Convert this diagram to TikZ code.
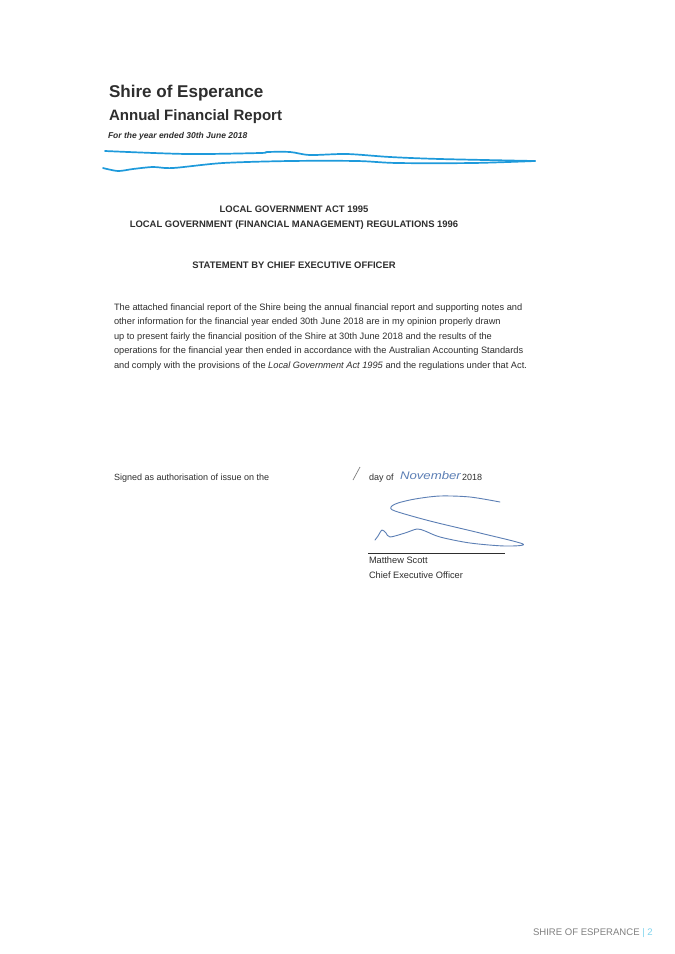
\documentclass[tikz,border=0pt]{standalone}
\usepackage{fontspec}
\setmainfont{Liberation Sans}
\definecolor{ink}{HTML}{2E2E2E}
\definecolor{pen}{HTML}{1E9ADB}
\definecolor{sig}{HTML}{5C7FB5}
\definecolor{foot}{HTML}{808080}
\definecolor{pagecol}{HTML}{7FD4EE}
\tikzset{
  txt/.style={anchor=base west,inner sep=0pt,outer sep=0pt,text=ink,font=\fontsize{#1}{#1}\selectfont},
  ctr/.style={anchor=base,inner sep=0pt,outer sep=0pt,text=ink,font=\fontsize{#1}{#1}\selectfont\bfseries},
  marker/.style={draw=pen,line width=1.7pt,line cap=round,line join=round},
  sign/.style={draw=sig,line width=0.9pt,line cap=round,line join=round}
}
\begin{document}
\begin{tikzpicture}[x=1pt,y=-1pt]
\useasboundingbox (0,0) rectangle (675,954);
\fill[white] (0,0) rectangle (675,954);
\node[txt=17,font=\fontsize{17.05}{17}\selectfont\bfseries] (t1) at (109,97) {Shire of Esperance};
\node[txt=15,font=\fontsize{15.05}{15}\selectfont\bfseries] (t2) at (109,120) {Annual Financial Report};
\node[txt=8.5,font=\fontsize{8.5}{8.5}\selectfont\bfseries\itshape] (t3) at (108,138) {For the year ended 30th June 2018};
\draw[marker] plot[smooth,tension=0.5] coordinates {(105,151) (187,154) (260,153) (267,152) (290,152) (310,155) (347,154) (390,157) (440,159) (535,161)};
\draw[marker] plot[smooth,tension=0.5] coordinates {(103,168) (118,171) (133,169) (153,167) (173,168) (223,163) (290,161) (357,161) (397,163) (473,163) (535,161)};
\node[ctr=9.45] (h1) at (294,212) {LOCAL GOVERNMENT ACT 1995};
\node[ctr=9.45] (h2) at (294,227) {LOCAL GOVERNMENT (FINANCIAL MANAGEMENT) REGULATIONS 1996};
\node[ctr=9.45] (h3) at (294,268) {STATEMENT BY CHIEF EXECUTIVE OFFICER};
\node[txt=9.25] (b1) at (114,310) {The attached financial report of the Shire being the annual financial report and supporting notes and};
\node[txt=9.25] (b2) at (114,324) {other information for the financial year ended 30th June 2018 are in my opinion properly drawn};
\node[txt=9.25] (b3) at (114,339) {up to present fairly the financial position of the Shire at 30th June 2018 and the results of the};
\node[txt=9.25] (b4) at (114,353) {operations for the financial year then ended in accordance with the Australian Accounting Standards};
\node[txt=9.25] (b5) at (114,368) {and comply with the provisions of the \textit{Local Government Act 1995} and the regulations under that Act.};
\node[txt=9] (s1) at (114,480) {Signed as authorisation of issue on the};
\draw[draw=gray,line width=0.7pt] (353,480) -- (360,467);
\node[txt=9] (s2) at (369,480) {day of};
\node[txt=11,text=sig,font=\fontsize{11}{11}\selectfont\itshape,xscale=1.2] (s3) at (400,479) {November};
\node[txt=9] (s4) at (462,480) {2018};
\draw[sign] plot[smooth,tension=0.5] coordinates {(500,502) (470,497) (440,496) (415,499) (398,503) (391,507) (395,511) (430,521) (480,533) (523,544) (505,546) (470,543) (440,537) (425,531) (417,529) (405,533) (390,537) (386,533) (382,530) (378,536) (375,540)};
\draw[draw=ink,line width=0.8pt] (368,553) -- (505,553);
\node[txt=9.25] (n1) at (369,563) {Matthew Scott};
\node[txt=9.25] (n2) at (369,578) {Chief Executive Officer};
\node[txt=9.55,text=foot] (f1) at (533,935) {SHIRE OF ESPERANCE \textcolor{pagecol}{| 2}};
\end{tikzpicture}
\end{document}
